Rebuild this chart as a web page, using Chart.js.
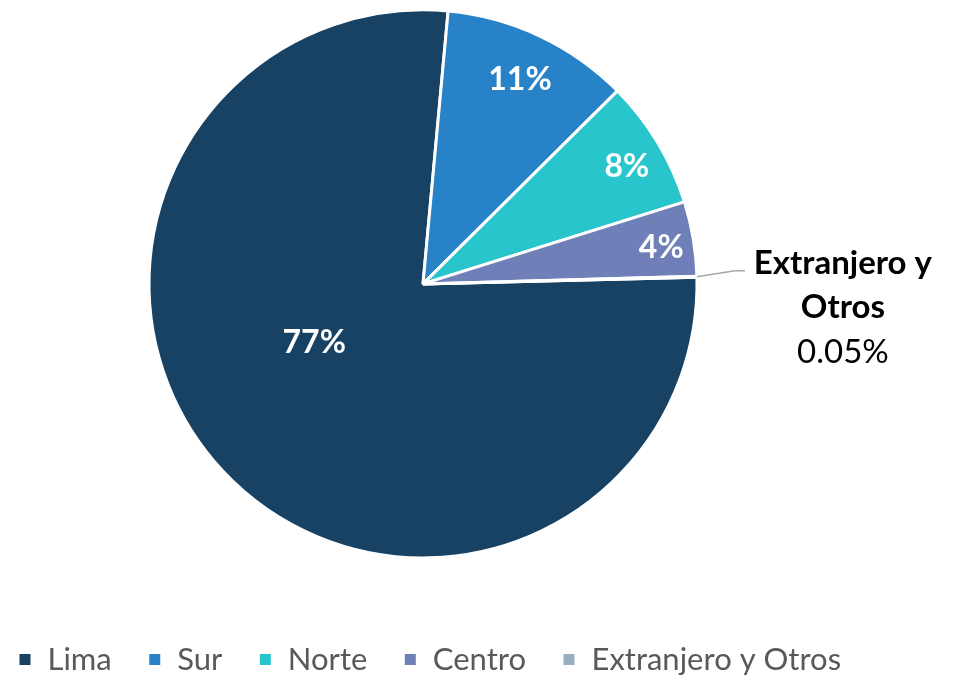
<!DOCTYPE html>
<html>
<head>
<meta charset="utf-8">
<script src="https://cdn.jsdelivr.net/npm/chart.js@4"></script>
<style>
html, body { margin: 0; padding: 0; background: #fff; }
</style>
</head>
<body>
<canvas id="pieChart" width="955" height="676"></canvas>
<script>
const regions = ['Lima', 'Sur', 'Norte', 'Centro', 'Extranjero y Otros'];
const shares = [76.85, 11.1, 7.6, 4.4, 0.05];
const shareLabels = ['77%', '11%', '8%', '4%', '0.05%'];
const sliceColors = ['#174264', '#2882C8', '#29C5CC', '#6F7FB7', '#98AEC2'];

// where each inside label sits (fraction of radius, angle shift in degrees)
const labelRadius = [0.45, 0.83, 0.86, 0.88, 1];
const labelShift = [15, 0, 1, 0.6, 0];

const sliceLabels = {
	id: 'sliceLabels',
	beforeLayout(chart) {
		// keep the legend on one row, like the original
		const lg = chart.legend;
		if (lg && !lg._oneRow) {
			const fit = lg.fit;
			lg.fit = function () {
				this.maxWidth = chart.width;
				fit.call(this);
			};
			lg._oneRow = true;
		}
	},
	afterLayout(chart) {
		// legend starts at the left edge and may run past the pie area
		const lg = chart.legend;
		if (lg) {
			lg.left = 18 - lg.options.labels.padding;
			lg.right = chart.width;
		}
	},
	afterDatasetsDraw(chart) {
		const ctx = chart.ctx;
		const arcs = chart.getDatasetMeta(0).data;
		ctx.save();
		ctx.textAlign = 'center';
		ctx.textBaseline = 'middle';
		arcs.forEach((arc, i) => {
			const p = arc.getProps(['x', 'y', 'startAngle', 'endAngle', 'outerRadius'], true);
			const mid = (p.startAngle + p.endAngle) / 2 + labelShift[i] * Math.PI / 180;
			if (i < 4) {
				const r = p.outerRadius * labelRadius[i];
				ctx.fillStyle = '#ffffff';
				ctx.font = 'bold 32px Lato';
				ctx.fillText(shareLabels[i], p.x + Math.cos(mid) * r, p.y + Math.sin(mid) * r + 1);
			} else {
				// outside label with leader line
				const x0 = p.x + Math.cos(mid) * p.outerRadius;
				const y0 = p.y + Math.sin(mid) * p.outerRadius;
				const x1 = x0 + 38, y1 = y0 - 6;
				const x2 = x1 + 10;
				ctx.strokeStyle = '#A6A6A6';
				ctx.lineWidth = 1.5;
				ctx.beginPath();
				ctx.moveTo(x0, y0);
				ctx.lineTo(x1, y1);
				ctx.lineTo(x2, y1);
				ctx.stroke();
				const tx = x2 + 98;
				ctx.fillStyle = '#000000';
				ctx.font = 'bold 33px Lato';
				ctx.fillText('Extranjero y', tx, y1 - 7);
				ctx.fillText('Otros', tx, y1 + 37);
				ctx.font = '33px Lato';
				ctx.fillText(shareLabels[i], tx, y1 + 82);
			}
		});
		ctx.restore();
	}
};

const pieConfig = {
	type: 'pie',
	data: {
		labels: regions,
		datasets: [
			{
				data: shares,
				backgroundColor: sliceColors,
				borderColor: '#ffffff',
				borderWidth: 3,
				radius: 274
			}
		]
	},
	options: {
		responsive: false,
		animation: false,
		rotation: 88.6,
		layout: {
			padding: { top: 0, left: 0, right: 109, bottom: -9 }
		},
		plugins: {
			legend: {
				display: true,
				position: 'bottom',
				align: 'start',
				title: {
					display: true,
					text: '',
					padding: { top: 39, bottom: 0 },
					font: { size: 1 }
				},
				labels: {
					boxWidth: 14,
					boxHeight: 14,
					padding: 36,
					color: '#595959',
					font: { family: 'Lato', size: 31 }
				}
			},
			tooltip: { enabled: false }
		}
	},
	plugins: [sliceLabels]
};

const chartRegions = new Chart(document.getElementById('pieChart'), pieConfig);
</script>
</body>
</html>
